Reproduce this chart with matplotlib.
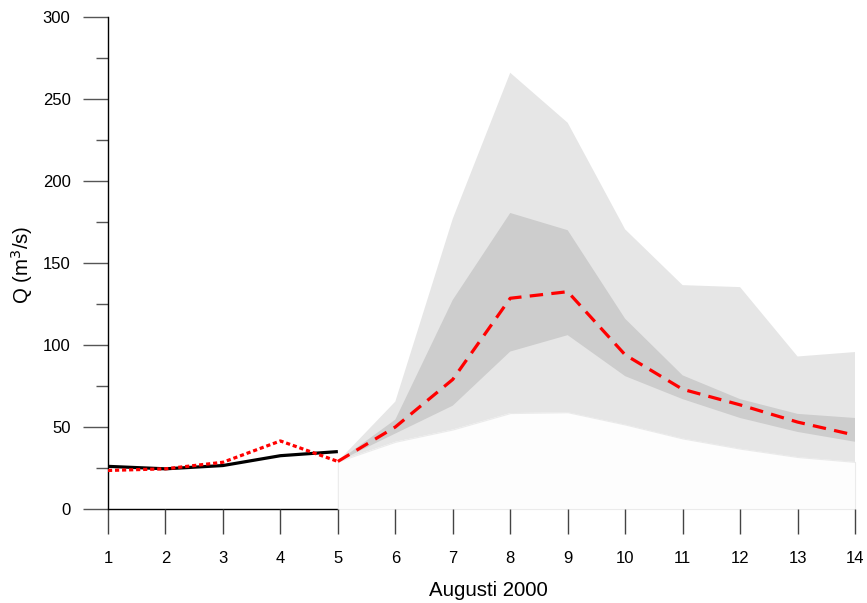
import matplotlib
matplotlib.use("Agg")
import matplotlib.pyplot as plt
from matplotlib.ticker import MultipleLocator

plt.rcParams['font.family'] = ['Liberation Sans', 'DejaVu Sans']

# Observed discharge and simulation, days 1-5
obs_days = [1, 2, 3, 4, 5]
observed = [26, 24.5, 26.5, 32.5, 35]
simulated = [23.5, 24.5, 28.5, 41.5, 29]

# Forecast, days 5-14
fc_days = [5, 6, 7, 8, 9, 10, 11, 12, 13, 14]
fc_median = [29, 50, 79, 128.5, 132.5, 94, 73, 63.5, 53, 45]
outer_low = [29, 41, 48.5, 58.5, 59, 51.5, 43, 36.8, 31.7, 28.7]
outer_high = [29, 65.5, 177, 266, 235.5, 170.5, 136.5, 135.3, 93, 95.7]
inner_low = [29, 46, 63, 96, 106, 81, 67, 55.5, 47, 41]
inner_high = [29, 54.5, 127.5, 180.5, 170, 116, 81.5, 67, 58, 55.5]

xticks = list(range(1, 15))
yticks = [0, 50, 100, 150, 200, 250, 300]

W, H = 867, 603
fig = plt.figure(figsize=(W / 100, H / 100), dpi=100)
ax = fig.add_axes([108 / W, (H - 509) / H, (855 - 108) / W, (509 - 17) / H])

# lowest band (near white) from zero up to the outer envelope
ax.fill_between(fc_days, [0] * len(fc_days), outer_low, facecolor='#fdfdfd',
                edgecolor='#ebebeb', linewidth=0.8, zorder=1, clip_on=False)
ax.fill_between(fc_days, outer_low, outer_high, facecolor='#e6e6e6',
                edgecolor='none', zorder=2)
ax.fill_between(fc_days, inner_low, inner_high, facecolor='#cdcdcd',
                edgecolor='none', zorder=3)

ax.plot(obs_days, observed, color='black', linewidth=2.3, zorder=5,
        solid_capstyle='butt')
ax.plot(obs_days, simulated, color='#ff0000', linewidth=2.3,
        linestyle=(0, (1.3, 0.9)), zorder=6)
ax.plot(fc_days, fc_median, color='#ff0000', linewidth=2.3,
        linestyle=(0, (4.2, 2.6)), zorder=6)

ax.set_xlim(1, 14)
ax.set_ylim(0, 300)

for s in ['top', 'right']:
    ax.spines[s].set_visible(False)
ax.spines['left'].set_bounds(0, 300)
ax.spines['bottom'].set_bounds(1, 5)
ax.spines['left'].set_linewidth(1.0)
ax.spines['bottom'].set_linewidth(1.0)
ax.spines['bottom'].set_zorder(0.5)

ax.set_xticks(xticks)
ax.set_xticklabels([str(t) for t in xticks])
ax.set_yticks(yticks)
ax.set_yticklabels([str(t) for t in yticks])
ax.yaxis.set_minor_locator(MultipleLocator(25))

ax.tick_params(axis='x', direction='out', length=18, width=1.0, color='#444444',
               pad=12, labelsize=12)
ax.tick_params(axis='y', which='major', direction='out', length=18, width=1.0,
               color='#555555', pad=9, labelsize=12)
ax.tick_params(axis='y', which='minor', direction='out', length=9, width=1.0,
               color='#555555')

ax.set_xlabel('Augusti 2000', fontsize=14.7)
ax.set_ylabel('Q (m$^3$/s)', fontsize=14.7)
ax.xaxis.set_label_coords((488 - 108) / 747, -(590 - 509) / 492, transform=ax.transAxes)
ax.yaxis.set_label_coords(-(108 - 22) / 747, (509 - 265) / 492, transform=ax.transAxes)
ax.xaxis.label.set_va('center')
ax.yaxis.label.set_va('center')

fig.savefig('out.png', dpi=100, facecolor='white')
